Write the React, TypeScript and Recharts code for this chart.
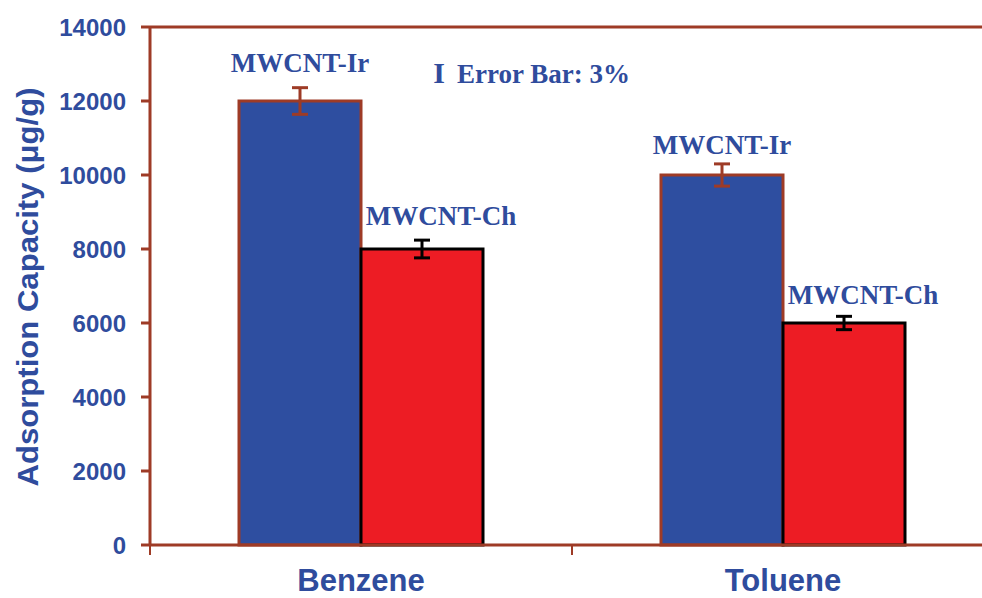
import {
    Bar,
    BarChart,
    Customized,
    ErrorBar,
    LabelList,
    ReferenceLine,
    XAxis,
    YAxis,
} from 'recharts';

const categories = ['Benzene', 'Toluene'];
const irValues = [12000, 10000];
const chValues = [8000, 6000];
const irErrors = [360, 300];
const chErrors = [240, 180];
const yTicks = [0, 2000, 4000, 6000, 8000, 10000, 12000, 14000];

const BLUE_TEXT = '#2F4C9D';
const BAR_BLUE = '#2E4EA0';
const BAR_RED = '#ED1C24';
const BROWN = '#9E3B26';
const SANS = '"Liberation Sans", Arial, sans-serif';
const SERIF = '"Liberation Serif", "Times New Roman", serif';

const data = categories.map((name, i) => ({
    name,
    ir: irValues[i],
    ch: chValues[i],
    irErr: irErrors[i],
    chErr: chErrors[i],
}));

// label lift above each bar top, per category
const irLift = [29, 21];
const chLift = [24, 19];

function seriesLabel(text: string, lift: number[], shift: number) {
    return (props: any) => {
        const { x, y, width, index } = props;
        return (
            <text
                x={Number(x) + Number(width) / 2 + shift}
                y={Number(y) - lift[index ?? 0]}
                textAnchor="middle"
                fill={BLUE_TEXT}
                fontFamily={SERIF}
                fontWeight="bold"
                fontSize={27}
            >
                {text}
            </text>
        );
    };
}

// category label plus the boundary ticks between categories
function CategoryTick(props: any) {
    const { x, y, payload } = props;
    const half = payload?.offset ?? 0;
    const axisY = y - 27;
    return (
        <g>
            <line
                x1={x - half}
                x2={x - half}
                y1={axisY}
                y2={axisY + 10}
                stroke={BROWN}
                strokeWidth={2}
            />
            <line
                x1={x + half}
                x2={x + half}
                y1={axisY}
                y2={axisY + 10}
                stroke={BROWN}
                strokeWidth={2}
            />
            <text
                x={x}
                y={y + 19}
                textAnchor="middle"
                fill={BLUE_TEXT}
                fontFamily={SANS}
                fontWeight="bold"
                fontSize={31}
            >
                {payload?.value}
            </text>
        </g>
    );
}

function ErrorNote() {
    return (
        <g>
            <text
                x={439}
                y={83}
                textAnchor="middle"
                fill={BLUE_TEXT}
                fontFamily={SERIF}
                fontWeight="bold"
                fontSize={30}
            >
                I
            </text>
            <text
                x={457}
                y={83}
                fill={BLUE_TEXT}
                fontFamily={SERIF}
                fontWeight="bold"
                fontSize={27}
            >
                Error Bar: 3%
            </text>
        </g>
    );
}

export default function App() {
    return (
        <div
            style={{
                position: 'absolute',
                left: 0,
                top: 0,
                width: 982,
                height: 598,
                overflow: 'hidden',
                background: '#fff',
            }}
        >
            <BarChart
                width={1000}
                height={598}
                data={data}
                margin={{ top: 27, right: 6, bottom: 0, left: 0 }}
                barGap={0}
                barCategoryGap={89}
            >
                <XAxis
                    dataKey="name"
                    height={53}
                    axisLine={{ stroke: BROWN, strokeWidth: 3 }}
                    tickLine={false}
                    tickSize={6}
                    tickMargin={21}
                    tick={<CategoryTick />}
                />
                <YAxis
                    width={150}
                    domain={[0, 14000]}
                    ticks={yTicks}
                    interval={0}
                    axisLine={{ stroke: BROWN, strokeWidth: 3 }}
                    tickLine={{ stroke: BROWN, strokeWidth: 3 }}
                    tickSize={9}
                    tickMargin={15}
                    tick={{
                        fill: BLUE_TEXT,
                        fontSize: 24,
                        fontWeight: 'bold',
                        fontFamily: SANS,
                    }}
                    label={{
                        content: (props: any) => {
                            const vb = props.viewBox || {};
                            const cx = (vb.x ?? 0) + 28;
                            const cy = (vb.y ?? 0) + (vb.height ?? 0) / 2 + 1;
                            return (
                                <text
                                    x={cx}
                                    y={cy}
                                    transform={`rotate(-90, ${cx}, ${cy})`}
                                    textAnchor="middle"
                                    dominantBaseline="central"
                                    fill={BLUE_TEXT}
                                    fontFamily={SANS}
                                    fontWeight="bold"
                                    fontSize={29}
                                    textLength={399}
                                    lengthAdjust="spacingAndGlyphs"
                                >
                                    Adsorption Capacity (μg/g)
                                </text>
                            );
                        },
                    }}
                />
                <ReferenceLine y={14000} stroke={BROWN} strokeWidth={3} />
                <Bar
                    dataKey="ir"
                    fill={BAR_BLUE}
                    stroke={BROWN}
                    strokeWidth={3}
                    isAnimationActive={false}
                >
                    <ErrorBar
                        dataKey="irErr"
                        direction="y"
                        width={8}
                        stroke={BROWN}
                        strokeWidth={3}
                        isAnimationActive={false}
                    />
                    <LabelList content={seriesLabel('MWCNT-Ir', irLift, 0)} />
                </Bar>
                <Bar
                    dataKey="ch"
                    fill={BAR_RED}
                    stroke="#000"
                    strokeWidth={3}
                    isAnimationActive={false}
                >
                    <ErrorBar
                        dataKey="chErr"
                        direction="y"
                        width={8}
                        stroke="#000"
                        strokeWidth={3}
                        isAnimationActive={false}
                    />
                    <LabelList content={seriesLabel('MWCNT-Ch', chLift, 19)} />
                </Bar>
                <Customized component={ErrorNote} />
            </BarChart>
        </div>
    );
}
